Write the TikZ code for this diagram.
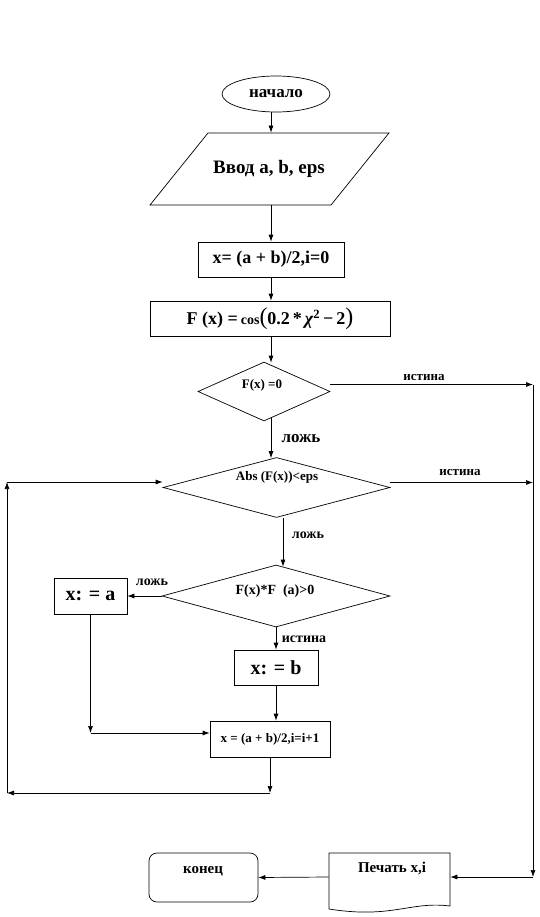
\documentclass[tikz,border=0pt]{standalone}
\usepackage{fontspec}
\setmainfont{Liberation Serif}
\usetikzlibrary{shapes.geometric,arrows.meta,calc}
\newcommand{\fsz}[1]{\fontsize{#1}{#1}\selectfont}
\begin{document}
\begin{tikzpicture}[x=1pt,y=-1pt,line width=0.7pt,
  arr/.style={-{Latex[length=7pt,width=5pt]}},
  box/.style={draw,rectangle,inner sep=0pt,font=\bfseries},
  dia/.style={draw,diamond,inner sep=0pt},
  lbl/.style={font=\bfseries\fsz{13}},
  txt/.style={inner sep=0pt,font=\bfseries}
]
\useasboundingbox[fill=white] (0,0) rectangle (540,917);

% shapes
\node[draw,ellipse,minimum width=108pt,minimum height=36pt,inner sep=0pt,font=\bfseries\fsz{17}] (start) at (276,94) {начало};

\draw (208,133) -- (389,133) -- (331,205) -- (150,205) -- cycle;
\node[inner sep=0pt,minimum width=180pt,minimum height=72pt,font=\bfseries\fsz{19}] (in) at (269,169) {Ввод a, b, eps};

\node[box,minimum width=146pt,minimum height=35pt,font=\bfseries\fsz{18}] (init) at (271,259.5) {x= (a + b)/2,i=0};

\node[box,minimum width=240pt,minimum height=35pt] (fx) at (270,318.5)
  {\fsz{18}F (x) =\,{\fsz{14}cos}{\mdseries\fsz{24}(}0.2\,*\,{\itshape χ}\textsuperscript{2}\,−\,2{\mdseries\fsz{24})}};

\node[dia,minimum width=132pt,minimum height=59pt] (d1) at (264,391.5) {};
\node[txt,font=\bfseries\fsz{13}] (t1) at (262,385) {F(x) =0};

\node[dia,minimum width=227pt,minimum height=60pt] (d2) at (276.5,487.5) {};
\node[txt,font=\bfseries\fsz{13}] (t2) at (277,477) {Abs (F(x))<eps};

\node[dia,minimum width=228pt,minimum height=62pt] (d3) at (276,596) {};
\node[txt,font=\bfseries\fsz{14}] (t3) at (275,591) {F(x)*F\ \ (a)>0};

\node[box,minimum width=73pt,minimum height=36pt,font=\bfseries\fsz{20}] (xa) at (90.5,596) {x: = a};
\node[box,minimum width=84pt,minimum height=35pt,font=\bfseries\fsz{20}] (xb) at (276,667.5) {x: = b};
\node[box,minimum width=120pt,minimum height=36pt,font=\bfseries\fsz{13}] (upd) at (270,739) {x = (a + b)/2,i=i+1};

\draw (329,853) -- (450,853) -- (450,906) .. controls (410,901) and (392,919) .. (329,909) -- cycle;
\node[inner sep=0pt,minimum width=121pt,minimum height=48pt] (pr) at (389.5,877) {};
\node[txt,font=\bfseries\fsz{15}] (tp) at (392,868) {Печать x,i};

\node[draw,rounded corners=8pt,minimum width=109pt,minimum height=49pt,inner sep=0pt] (fin) at (203.5,877.5) {};
\node[txt,font=\bfseries\fsz{15}] (tf) at (203,871) {конец};

% helper coordinates
\coordinate (ax) at (271,0);
\coordinate (rx) at (533,0);
\coordinate (corR) at (533,877);
\coordinate (corA) at (90.5,733);
\coordinate (corB) at (270,793);
\coordinate (corL) at (7,793);
\coordinate (corT) at (7,482);

% connectors
\draw[arr] (start.south -| ax) -- (in.north -| ax);
\draw[arr] (in.south -| ax) -- (init.north -| ax);
\draw[arr] (init.south -| ax) -- (fx.north -| ax);
\draw[arr] (fx.south -| ax) -- ($(d1.north -| ax)+(0,1)$);
\draw[arr] ($(d1.south -| ax)+(0,-3)$) -- ($(d2.north -| ax)+(0,1)$);
\node[lbl,font=\bfseries\fsz{17}] (l1) at (301,439) {ложь};

\draw[arr] ([yshift=7pt]d1.east) -- ([yshift=7pt]d1.east -| rx);
\node[lbl] (l2) at (424,377) {истина};
\draw[arr] ([yshift=5pt]d2.east) -- ([yshift=5pt]d2.east -| rx);
\node[lbl] (l3) at (460,472) {истина};
\draw[arr] ([yshift=7pt]d1.east -| rx) -- (corR);
\draw[arr] (corR) -- (pr.east);
\draw[arr] (pr.west) -- (fin.east);

\draw[arr] (d2.south -| d3.north) ++(7,0) -- ($(d3.north)+(7,2)$);
\node[lbl,font=\bfseries\fsz{14}] (l4) at (308,535) {ложь};

\draw[arr] (d3.west) -- (xa.east);
\node[lbl,font=\bfseries\fsz{14}] (l5) at (152,582) {ложь};

\draw[arr] (d3.south -| xb.north) -- (xb.north);
\node[lbl,font=\bfseries\fsz{14}] (l6) at (304,639) {истина};

\draw[arr] (xb.south) -- (upd.north -| xb.south);
\draw[arr] (xa.south) -- (corA);
\draw[arr] (corA) -- (corA -| upd.west);

\draw[arr] (upd.south) -- (corB);
\draw[arr] (corB) -- (corL);
\draw[arr] (corL) -- (corT);
\draw[arr] (corT) -- (corT -| d2.west);
\end{tikzpicture}
\end{document}
